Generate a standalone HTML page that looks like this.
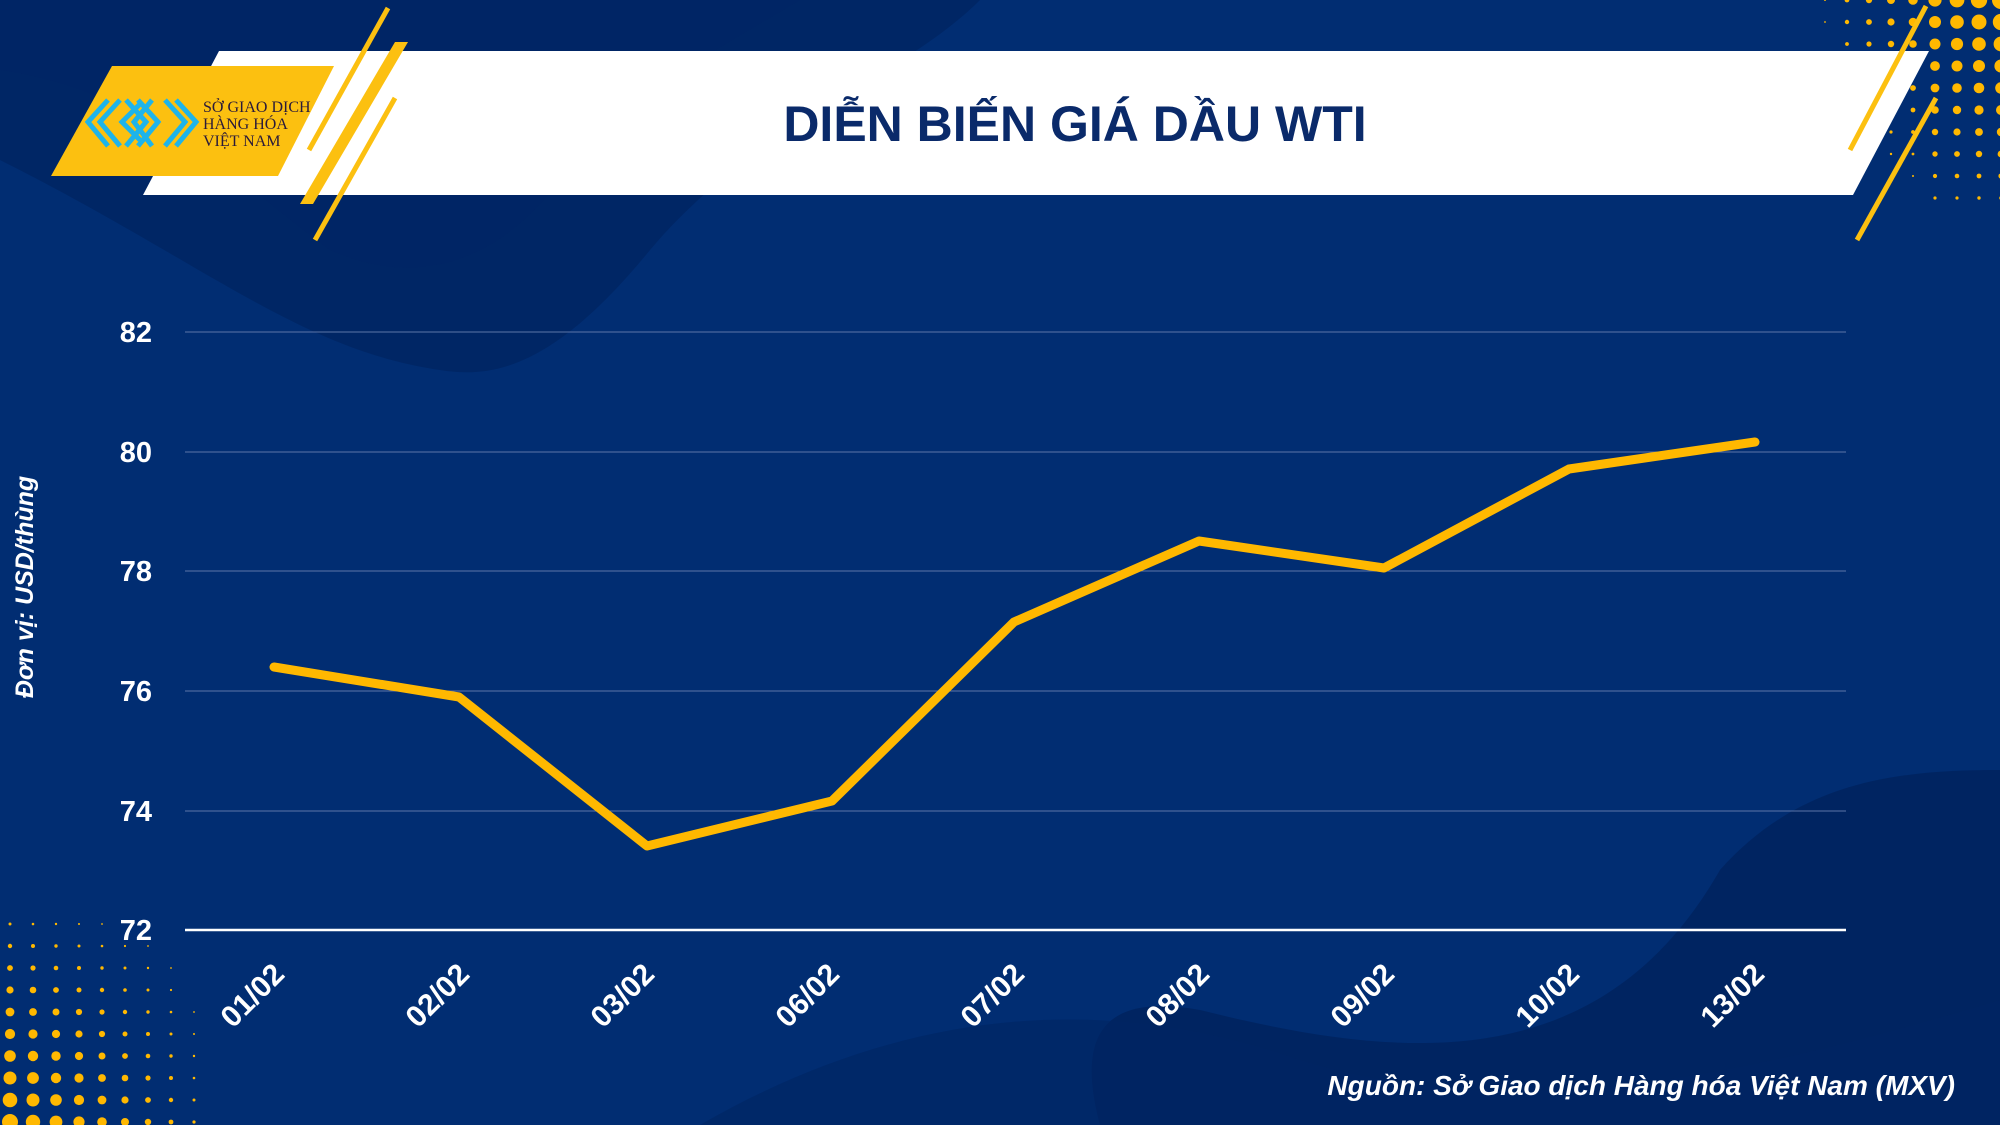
<!DOCTYPE html>
<html><head><meta charset="utf-8"><style>
html,body{margin:0;padding:0;background:#002d72;}
svg{display:block}
</style></head><body>
<svg id="s" width="2000" height="1125" viewBox="0 0 2000 1125" xmlns="http://www.w3.org/2000/svg">
<rect width="2000" height="1125" fill="#012d72"/>
<path d="M0 0 H980 C900 80 760 120 650 250 C560 360 500 380 440 370 C300 350 200 260 0 160 Z" fill="#00245f" opacity="0.7"/>
<path d="M0 70 C150 90 260 200 330 250 C420 290 500 260 560 180 C620 100 700 60 800 0 H0Z" fill="#002566" opacity="0.6"/>
<path d="M1100 1125 C1080 1050 1090 990 1200 1010 C1400 1060 1600 1080 1720 870 C1800 780 1900 770 2000 770 V1125Z" fill="#00215a" opacity="0.7"/>
<path d="M700 1125 C900 1010 1100 990 1300 1060 C1500 1120 1700 1090 2000 1000 V1125Z" fill="#002463" opacity="0.6"/>
<g id="dots" fill="#ffb800"></g>
<!-- banner -->
<polygon points="219,51 1929,51 1853,195 143,195" fill="#ffffff"/>
<polygon points="112,66 334,66 278,176 51,176" fill="#fcc010"/>
<line x1="388" y1="8" x2="309" y2="150" stroke="#fcc010" stroke-width="5"/>
<polygon points="395,42 408,42 313,204 300,204" fill="#fcc010"/>
<line x1="395" y1="98" x2="315" y2="240" stroke="#fcc010" stroke-width="5"/>
<line x1="1926" y1="6" x2="1850" y2="150" stroke="#fcc010" stroke-width="5"/>
<line x1="1936" y1="98" x2="1857" y2="240" stroke="#fcc010" stroke-width="5"/>
<!-- logo mark -->
<g fill="none" stroke="#1eb4ea" stroke-width="5">
<polyline points="108,100 88,122 108,146"/><polyline points="120,100 100,122 120,146"/>
<polyline points="126,100 146,122 126,146"/><polyline points="138,100 158,122 138,146"/>
<polyline points="140,104 122,122 140,140"/>
<polyline points="152,100 134,122 152,146"/>
<polyline points="165,100 185,122 165,146"/><polyline points="176,100 196,122 176,146"/>
</g>
<text x="203" y="112" font-family="Liberation Serif, serif" font-size="16" fill="#2a1a3a">SỞ GIAO DỊCH</text>
<text x="203" y="129" font-family="Liberation Serif, serif" font-size="16" fill="#2a1a3a">HÀNG HÓA</text>
<text x="203" y="146" font-family="Liberation Serif, serif" font-size="16" fill="#2a1a3a">VIỆT NAM</text>
<text x="1075" y="141" text-anchor="middle" font-family="Liberation Sans, sans-serif" font-weight="bold" font-size="50" fill="#0a2a6a">DIỄN BIẾN GIÁ DẦU WTI</text>
<!-- grid -->
<g stroke="#5d75a8" stroke-width="1">
<line x1="185" y1="332" x2="1846" y2="332"/><line x1="185" y1="452" x2="1846" y2="452"/>
<line x1="185" y1="571" x2="1846" y2="571"/><line x1="185" y1="691" x2="1846" y2="691"/>
<line x1="185" y1="811" x2="1846" y2="811"/>
</g>
<line x1="185" y1="930" x2="1846" y2="930" stroke="#ffffff" stroke-width="2.5"/>
<g font-family="Liberation Sans, sans-serif" font-weight="bold" font-size="29" fill="#fff" text-anchor="end">
<text x="152" y="342">82</text><text x="152" y="462">80</text><text x="152" y="581">78</text>
<text x="152" y="701">76</text><text x="152" y="821">74</text><text x="152" y="940">72</text>
</g>
<g font-family="Liberation Sans, sans-serif" font-weight="bold" font-size="30" fill="#fff" text-anchor="end">
<text transform="translate(286,976) rotate(-45)">01/02</text>
<text transform="translate(471,976) rotate(-45)">02/02</text>
<text transform="translate(656,976) rotate(-45)">03/02</text>
<text transform="translate(841,976) rotate(-45)">06/02</text>
<text transform="translate(1026,976) rotate(-45)">07/02</text>
<text transform="translate(1211,976) rotate(-45)">08/02</text>
<text transform="translate(1396,976) rotate(-45)">09/02</text>
<text transform="translate(1581,976) rotate(-45)">10/02</text>
<text transform="translate(1766,976) rotate(-45)">13/02</text>
</g>
<polyline points="274,667 459,697 647,846 832,801 1014,622 1199,541 1384,568 1569,469 1755,442" fill="none" stroke="#ffb800" stroke-width="9" stroke-linejoin="round" stroke-linecap="round"/>
<text transform="translate(33,587) rotate(-90)" text-anchor="middle" font-family="Liberation Sans, sans-serif" font-weight="bold" font-style="italic" font-size="25" fill="#fff">Đơn vị: USD/thùng</text>
<text x="1955" y="1095" text-anchor="end" font-family="Liberation Sans, sans-serif" font-weight="bold" font-style="italic" font-size="28" fill="#fff">Nguồn: Sở Giao dịch Hàng hóa Việt Nam (MXV)</text>
</svg>
<script>
(function(){
var g=document.getElementById('dots'),h='';
for(var i=0;i<10;i++){for(var j=0;j<11;j++){
 var x=1781+j*22,y=0+i*22;
 var r=8*(j/10)*(1-i/10)+ (j>6?1:0);
 if(j<3) r*=0.6;
 if(r>0.8) h+='<circle cx="'+x+'" cy="'+y+'" r="'+r.toFixed(1)+'"/>';
}}
for(var i=0;i<12;i++){for(var j=0;j<11;j++){
 var x=10+j*23,y=1122-i*22;
 var r=8*(1-j/10)*(1-i/11);
 if(r>0.8) h+='<circle cx="'+x+'" cy="'+y+'" r="'+r.toFixed(1)+'"/>';
}}
g.innerHTML=h;
})();
</script>
</body></html>
